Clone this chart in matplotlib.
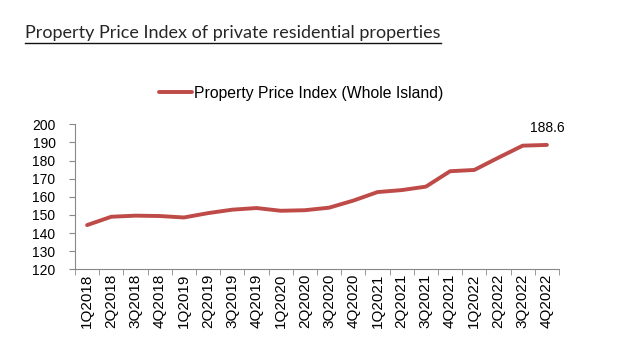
import matplotlib
matplotlib.use('Agg')
import matplotlib.pyplot as plt
from matplotlib.lines import Line2D
import numpy as np

quarters = ['1Q2018', '2Q2018', '3Q2018', '4Q2018',
            '1Q2019', '2Q2019', '3Q2019', '4Q2019',
            '1Q2020', '2Q2020', '3Q2020', '4Q2020',
            '1Q2021', '2Q2021', '3Q2021', '4Q2021',
            '1Q2022', '2Q2022', '3Q2022', '4Q2022']
ppi = [144.4, 149.0, 149.6, 149.4,
       148.6, 151.0, 152.9, 153.8,
       152.3, 152.6, 154.0, 157.9,
       162.6, 163.7, 165.6, 174.1,
       174.8, 181.6, 188.2, 188.6]
y_ticks = [120, 130, 140, 150, 160, 170, 180, 190, 200]

title = 'Property Price Index of private residential properties'
series_name = 'Property Price Index (Whole Island)'

plt.rcParams['font.family'] = ['Liberation Sans', 'DejaVu Sans']

fig = plt.figure(figsize=(6.17, 3.53), dpi=100)
ax = fig.add_axes([75 / 617, 0.237, 484 / 617, 0.411])

x = np.arange(len(quarters))
ax.plot(x, ppi, color='#BE4B48', lw=2.8, solid_capstyle='round',
        label=series_name)

# label on last point
ax.annotate(f'{ppi[-1]:.1f}', (x[-1], ppi[-1]), xytext=(0, 7),
            textcoords='offset points', ha='center', va='bottom', fontsize=10)

ax.set_xlim(-0.5, len(quarters) - 0.5)
ax.set_ylim(120, 200)
ax.set_yticks(y_ticks)
ax.tick_params(axis='y', labelsize=10, length=4, color='#888888', pad=10)

ax.set_xticks(x)
ax.set_xticklabels(quarters, rotation=90, fontsize=11)
ax.set_xticks(np.arange(len(quarters) + 1) - 0.5, minor=True)
ax.tick_params(axis='x', which='major', length=0, pad=3)
ax.tick_params(axis='x', which='minor', length=4, color='#888888')

for s in ['top', 'right']:
    ax.spines[s].set_visible(False)
for s in ['left', 'bottom']:
    ax.spines[s].set_color('#888888')
    ax.spines[s].set_linewidth(0.8)

leg = ax.legend(loc='lower center', bbox_to_anchor=(0.467, 1.12), frameon=False,
                fontsize=11.3, handlelength=2.1, handletextpad=0.1,
                borderaxespad=0)

# underlined title
t = fig.text(25 / 617, 1 - 38 / 353, title, family='Lato', fontsize=13.0,
             color='#262626', ha='left', va='baseline')
fig.canvas.draw()
bb = t.get_window_extent()
W, H = fig.bbox.width, fig.bbox.height
uy = (bb.y0 - 2) / H
fig.add_artist(Line2D([bb.x0 / W, bb.x1 / W], [uy, uy], color='#111111', lw=1.0))

fig.savefig('out.png', dpi=100)
